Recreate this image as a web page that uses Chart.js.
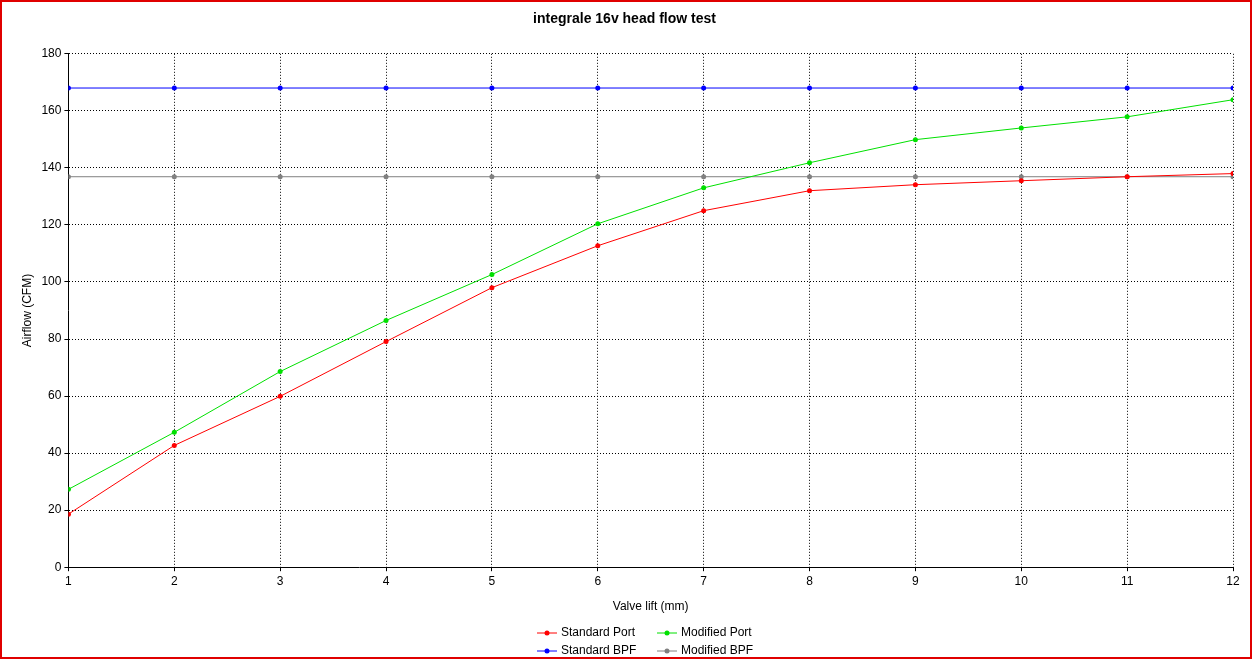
<!DOCTYPE html>
<html>
<head>
<meta charset="utf-8">
<script src="https://cdn.jsdelivr.net/npm/chart.js@4/dist/chart.umd.min.js"></script>
<style>
  html, body { margin: 0; padding: 0; background: #fff; }
  #wrap { position: absolute; left: 0; top: 0; width: 1248px; height: 655px; border: 2px solid #e00000; }
</style>
</head>
<body>
<div id="wrap"><canvas id="chart" width="1248" height="655"></canvas></div>
<script>
const lifts = [1, 2, 3, 4, 5, 6, 7, 8, 9, 10, 11, 12];
const standardPort = [18.6, 42.7, 59.9, 79.1, 98, 112.7, 125, 132, 134.1, 135.5, 136.9, 138];
const modifiedPort = [27.3, 47.3, 68.6, 86.5, 102.6, 120.4, 133, 141.8, 149.9, 154, 157.9, 163.9];
const standardBPF = [168, 168, 168, 168, 168, 168, 168, 168, 168, 168, 168, 168];
const modifiedBPF = [136.9, 136.9, 136.9, 136.9, 136.9, 136.9, 136.9, 136.9, 136.9, 136.9, 136.9, 136.9];

function series(label, values, color) {
    return {
        label: label,
        data: lifts.map((x, i) => ({ x: x, y: values[i] })),
        borderColor: color,
        backgroundColor: color,
        borderWidth: 1,
        pointRadius: 2.5,
        pointBorderWidth: 0,
        tension: 0,
    };
}

// legend drawn in two columns like the original
const legendPlugin = {
    id: "gridLegend",
    afterDraw(chart) {
        const ctx = chart.ctx;
        const items = chart.data.datasets;
        const cols = [549, 669];
        const rows = [631, 649];
        ctx.save();
        ctx.font = "12px Arial, 'Liberation Sans', sans-serif";
        ctx.textBaseline = "middle";
        items.forEach((ds, i) => {
            const x = cols[i % 2], y = rows[Math.floor(i / 2)];
            ctx.strokeStyle = ds.borderColor;
            ctx.lineWidth = 1;
            ctx.beginPath(); ctx.moveTo(x - 14, y); ctx.lineTo(x + 6, y); ctx.stroke();
            ctx.fillStyle = ds.borderColor;
            ctx.beginPath(); ctx.arc(x - 4, y, 2.5, 0, Math.PI * 2); ctx.fill();
            ctx.fillStyle = "#000";
            ctx.fillText(ds.label, x + 10, y);
        });
        ctx.restore();
    },
};

const font = { family: "Arial, 'Liberation Sans', sans-serif", size: 12 };

new Chart(document.getElementById("chart").getContext("2d"), {
    type: "line",
    data: {
        datasets: [
            series("Standard Port", standardPort, "#ff0000"),
            series("Modified Port", modifiedPort, "#00e000"),
            series("Standard BPF", standardBPF, "#0000ff"),
            series("Modified BPF", modifiedBPF, "#808080"),
        ],
    },
    options: {
        responsive: false,
        animation: false,
        layout: { padding: { left: 14, right: 17, top: 5, bottom: 39 } },
        plugins: {
            legend: { display: false },
            tooltip: { enabled: false },
            title: {
                display: true,
                text: "integrale 16v head flow test",
                color: "#000",
                font: { family: font.family, size: 14, weight: "bold" },
                padding: { top: 4, bottom: 26 },
            },
        },
        scales: {
            x: {
                type: "linear",
                min: 1, max: 12,
                ticks: { stepSize: 1, color: "#000", font: font },
                grid: { color: "#000", tickLength: 4 },
                border: { color: "#000", dash: [1, 2] },
                title: { display: true, text: "Valve lift (mm)", color: "#000", font: font, padding: { top: 8 } },
            },
            y: {
                min: 0, max: 180,
                ticks: { stepSize: 20, color: "#000", font: font },
                grid: { color: "#000", tickLength: 4 },
                border: { color: "#000", dash: [1, 2] },
                title: { display: true, text: "Airflow (CFM)", color: "#000", font: font },
            },
        },
    },
    plugins: [legendPlugin],
});
</script>
</body>
</html>
